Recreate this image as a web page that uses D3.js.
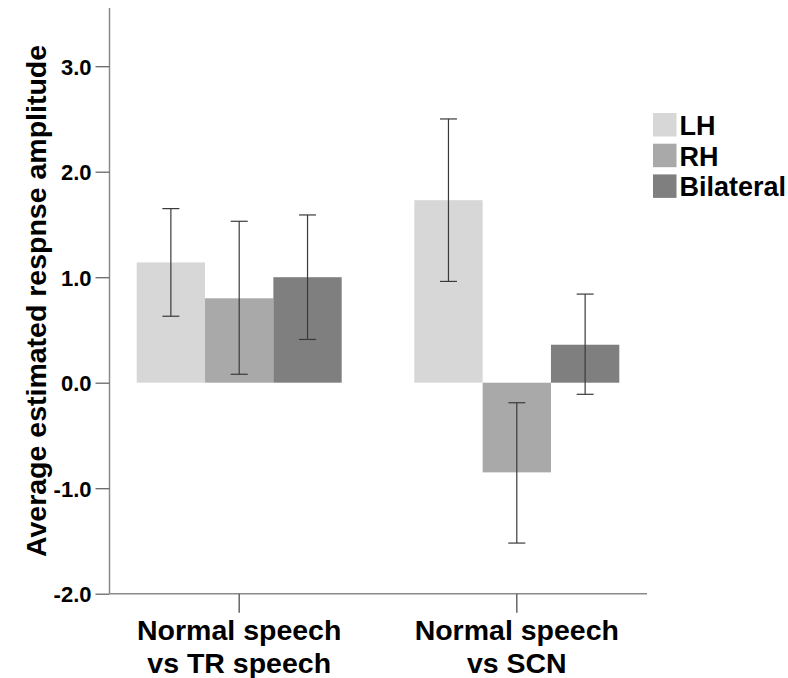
<!DOCTYPE html>
<html>
<head>
<meta charset="utf-8">
<script src="https://cdn.jsdelivr.net/npm/d3@7"></script>
<style>
  body { margin: 0; background: #fff; }
  text { font-family: "Liberation Sans", Arial, sans-serif; font-weight: bold; fill: #000; }
</style>
</head>
<body>
<div class="container"></div>
<script>
const HEIGHT = 678;
const WIDTH = 788;

var categories = [["Normal speech", "vs TR speech"], ["Normal speech", "vs SCN"]];
var series = ["LH", "RH", "Bilateral"];
var colors = ["#d7d7d7", "#a9a9a9", "#7f7f7f"];
var means = [[1.14, 0.80, 1.00], [1.73, -0.85, 0.36]];
var upper = [[1.65, 1.53, 1.59], [2.50, -0.19, 0.84]];
var lower = [[0.63, 0.08, 0.41], [0.96, -1.52, -0.11]];
var yTicks = [-2, -1, 0, 1, 2, 3];

var drawBars = function(x_scale, inner, y_scale, svg){
    categories.forEach(function(c, i){
        var g = svg.append("g")
            .attr("transform", "translate(" + x_scale(i) + ",0)");

        g.selectAll("rect")
            .data(means[i])
            .enter()
            .append("rect")
            .attr("x", function(d, j){ return inner(j) })
            .attr("width", inner.bandwidth())
            .attr("y", function(d){ return y_scale(Math.max(0, d)) })
            .attr("height", function(d){ return Math.abs(y_scale(d) - y_scale(0)) })
            .style("fill", function(d, j){ return colors[j] });

        var err = g.selectAll("g.err")
            .data(means[i])
            .enter()
            .append("g")
            .attr("class", "err")
            .attr("transform", function(d, j){ return "translate(" + (inner(j) + inner.bandwidth() / 2) + ",0)" })
            .style("stroke", "#3a3a3a")
            .style("stroke-width", 1.2);

        err.append("line")
            .attr("y1", function(d, j){ return y_scale(upper[i][j]) })
            .attr("y2", function(d, j){ return y_scale(lower[i][j]) });
        err.append("line")
            .attr("x1", -8.5).attr("x2", 8.5)
            .attr("y1", function(d, j){ return y_scale(upper[i][j]) })
            .attr("y2", function(d, j){ return y_scale(upper[i][j]) });
        err.append("line")
            .attr("x1", -8.5).attr("x2", 8.5)
            .attr("y1", function(d, j){ return y_scale(lower[i][j]) })
            .attr("y2", function(d, j){ return y_scale(lower[i][j]) });
    });
};

var drawAxes = function(y_scale, svg){
    var yAxis = svg.append("g")
        .attr("transform", "translate(109.5,0)")
        .call(d3.axisLeft(y_scale).tickValues(yTicks).tickSize(14).tickPadding(4)
            .tickFormat(function(d){ return d.toFixed(1) }));
    yAxis.select(".domain").attr("d", "M0,8V" + y_scale(-2)).style("stroke", "#8a8a8a").style("stroke-width", 1.5);
    yAxis.selectAll(".tick line").style("stroke", "#666").style("stroke-width", 1.3);
    yAxis.selectAll(".tick text").style("font-size", "22px").attr("dy", "0.36em");

    svg.append("line")
        .attr("x1", 109.5).attr("x2", 647)
        .attr("y1", y_scale(-2)).attr("y2", y_scale(-2))
        .style("stroke", "#8a8a8a").style("stroke-width", 1.5);

    svg.append("text")
        .attr("transform", "translate(46," + 301 + ") rotate(-90)")
        .attr("text-anchor", "middle")
        .style("font-size", "28.5px")
        .text("Average estimated respnse amplitude");
};

var drawCategories = function(centers, y_scale, svg){
    var g = svg.selectAll("g.cat")
        .data(categories)
        .enter()
        .append("g")
        .attr("class", "cat")
        .attr("transform", function(d, i){ return "translate(" + centers[i] + ",0)" });

    g.append("line")
        .attr("y1", y_scale(-2)).attr("y2", y_scale(-2) + 19)
        .style("stroke", "#666").style("stroke-width", 1.5);

    g.append("text")
        .attr("text-anchor", "middle")
        .attr("y", 640)
        .style("font-size", "28.5px")
        .text(function(d){ return d[0] });
    g.append("text")
        .attr("text-anchor", "middle")
        .attr("y", 673)
        .style("font-size", "28.5px")
        .text(function(d){ return d[1] });
};

var drawLegend = function(svg){
    var g = svg.selectAll("g.leg")
        .data(series)
        .enter()
        .append("g")
        .attr("class", "leg")
        .attr("transform", function(d, i){ return "translate(653," + (113 + i * 30.7) + ")" });

    g.append("rect")
        .attr("width", 23.5).attr("height", 23.5)
        .style("fill", function(d, i){ return colors[i] });

    g.append("text")
        .attr("x", 26.5).attr("y", 22)
        .style("font-size", "27px")
        .text(function(d){ return d });
};

var load = function(){
    var y_scale = d3.scaleLinear()
        .domain([-2, 3])
        .range([593.7, 66.2]);

    // left edges of the two groups, bars are 68.3 px wide
    var starts = [136.7, 414.3];
    var x_scale = function(i){ return starts[i] };
    var inner = d3.scaleBand()
        .domain([0, 1, 2])
        .range([0, 205])
        .padding(0);
    var centers = starts.map(function(s){ return s + 102.5 });

    var svg = d3.select(".container")
        .append("svg")
        .attr("height", HEIGHT)
        .attr("width", WIDTH);

    drawBars(x_scale, inner, y_scale, svg);
    drawAxes(y_scale, svg);
    drawCategories(centers, y_scale, svg);
    drawLegend(svg);
};

window.onload = load;
</script>
</body>
</html>
